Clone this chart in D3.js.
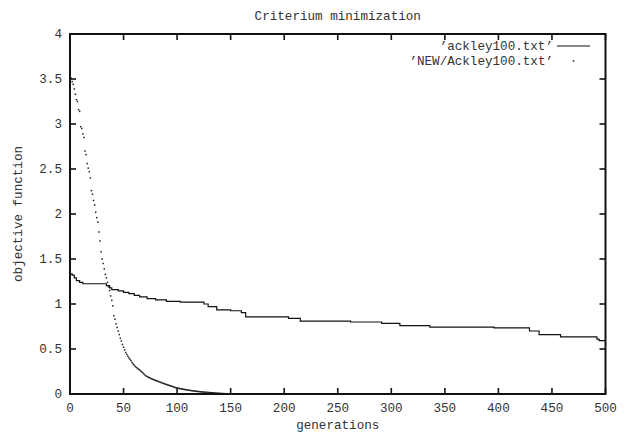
<!DOCTYPE html>
<html>
<head>
<meta charset="utf-8">
<script src="https://cdn.jsdelivr.net/npm/d3@7"></script>
<style>
  html, body { margin: 0; padding: 0; background: #fff; }
  svg { display: block; }
  text { font-family: "Courier New", Courier, "Liberation Mono", "DejaVu Sans Mono", monospace; fill: #333; }
</style>
</head>
<body>
<svg id="chart" width="628" height="437"></svg>
<script>
// ---- data ----
const title = "Criterium minimization";
const xLabel = "generations";
const yLabel = "objective function";
const xTicks = [0, 50, 100, 150, 200, 250, 300, 350, 400, 450, 500];
const yTicks = [0, 0.5, 1, 1.5, 2, 2.5, 3, 3.5, 4];
const yTickLabels = ["0", "0.5", "1", "1.5", "2", "2.5", "3", "3.5", "4"];
const seriesNames = ["\u2019ackley100.txt\u2019", "\u2019NEW/Ackley100.txt\u2019"];

// 'ackley100.txt' : generation at which the value changes, and the value held from there
const ackleyGen = [0, 2, 4, 6, 9, 12, 34, 37, 39, 45, 50, 55, 60, 65, 72, 80, 90, 103, 125, 129, 137, 150, 160, 164, 204, 215, 262, 291, 308, 336, 396, 429, 438, 458, 492, 494, 500];
const ackleyVal = [1.335, 1.32, 1.29, 1.26, 1.24, 1.225, 1.205, 1.18, 1.16, 1.145, 1.13, 1.115, 1.095, 1.08, 1.06, 1.045, 1.03, 1.02, 1.0, 0.97, 0.935, 0.925, 0.905, 0.858, 0.84, 0.81, 0.80, 0.785, 0.76, 0.742, 0.735, 0.70, 0.66, 0.635, 0.61, 0.594, 0.594];

// 'NEW/Ackley100.txt' : one value per generation (index = generation)
const newVal = [
  3.55, 3.51, 3.47, 3.44, 3.39, 3.33, 3.27, 3.25, 3.16, 3.14,
  2.97, 2.95, 2.89, 2.85, 2.70, 2.66, 2.56, 2.51, 2.47, 2.40,
  2.26, 2.22, 2.15, 2.10, 2.02, 1.96, 1.91, 1.80, 1.70, 1.58,
  1.50, 1.45, 1.39, 1.33, 1.29, 1.24, 1.19, 1.15, 1.09, 1.04,
  0.98, 0.87, 0.83, 0.78, 0.74, 0.70, 0.66, 0.62, 0.59, 0.55,
  0.52, 0.49, 0.46, 0.44, 0.42, 0.40, 0.385, 0.37, 0.35, 0.335,
  0.32, 0.305, 0.295, 0.285, 0.275, 0.267, 0.255, 0.245, 0.235, 0.222,
  0.21, 0.20, 0.194, 0.188, 0.182, 0.176, 0.17, 0.165, 0.16, 0.155,
  0.15, 0.146, 0.141, 0.137, 0.132, 0.128, 0.123, 0.119, 0.114, 0.11,
  0.106, 0.102, 0.098, 0.094, 0.09, 0.086, 0.082, 0.077, 0.073, 0.07,
  0.067, 0.064, 0.062, 0.059, 0.057, 0.055, 0.052, 0.05, 0.048, 0.046,
  0.044, 0.042, 0.04, 0.038, 0.037, 0.035, 0.033, 0.032, 0.03, 0.029,
  0.027, 0.026, 0.025, 0.023, 0.022, 0.021, 0.02, 0.019, 0.018, 0.017,
  0.016, 0.015, 0.014, 0.013, 0.012, 0.011, 0.010, 0.009, 0.008, 0.007,
  0.006, 0.006, 0.005, 0.004, 0.004, 0.003, 0.003, 0.002, 0.002, 0.001,
  0.001
];

// ---- layout ----
const svg = d3.select("#chart");
const L = 70, R = 605.5, T = 34, B = 394;
const x = d3.scaleLinear().domain([0, 500]).range([L, R]);
const y = d3.scaleLinear().domain([0, 4]).range([B, T]);
const fs = 12.6;
const tickLen = 6;

// ticks (inward, mirrored)
const tk = svg.append("g").attr("stroke", "#111").attr("stroke-width", 1.6);
xTicks.forEach(v => {
  tk.append("line").attr("x1", x(v)).attr("x2", x(v)).attr("y1", B).attr("y2", B - tickLen);
  tk.append("line").attr("x1", x(v)).attr("x2", x(v)).attr("y1", T).attr("y2", T + tickLen);
});
yTicks.forEach(v => {
  tk.append("line").attr("x1", L).attr("x2", L + tickLen).attr("y1", y(v)).attr("y2", y(v));
  tk.append("line").attr("x1", R).attr("x2", R - tickLen).attr("y1", y(v)).attr("y2", y(v));
});

// tick labels
svg.append("g").selectAll("text").data(xTicks).join("text")
  .attr("x", d => x(d)).attr("y", 412).attr("text-anchor", "middle")
  .attr("font-size", fs).text(d => d);
svg.append("g").selectAll("text").data(yTicks).join("text")
  .attr("x", 62).attr("y", d => y(d) + 4.3).attr("text-anchor", "end")
  .attr("font-size", fs).text((d, i) => yTickLabels[i]);

// title and axis labels
svg.append("text").attr("x", (L + R) / 2).attr("y", 20).attr("text-anchor", "middle")
  .attr("font-size", fs).text(title);
svg.append("text").attr("x", (L + R) / 2).attr("y", 429).attr("text-anchor", "middle")
  .attr("font-size", fs).text(xLabel);
svg.append("text").attr("transform", `translate(22,${(T + B) / 2}) rotate(-90)`)
  .attr("text-anchor", "middle").attr("font-size", fs).text(yLabel);

// series 1: line
const line = d3.line().x((d, i) => x(ackleyGen[i])).y(d => y(d)).curve(d3.curveStepAfter);
svg.append("path").datum(ackleyVal).attr("d", line)
  .attr("fill", "none").attr("stroke", "#111").attr("stroke-width", 1.2);

// series 2: dots
svg.append("g").selectAll("rect").data(newVal).join("rect")
  .attr("x", (d, i) => x(i) - 0.75).attr("y", d => y(d) - 0.75)
  .attr("width", 1.5).attr("height", 1.5).attr("fill", "#222");

// legend
const lgX = 553, lgS1 = 557, lgS2 = 590;
svg.append("text").attr("x", lgX).attr("y", 50).attr("text-anchor", "end")
  .attr("font-size", fs).text(seriesNames[0]);
svg.append("line").attr("x1", lgS1).attr("x2", lgS2).attr("y1", 46).attr("y2", 46)
  .attr("stroke", "#111").attr("stroke-width", 1.2);
svg.append("text").attr("x", lgX).attr("y", 65).attr("text-anchor", "end")
  .attr("font-size", fs).text(seriesNames[1]);
svg.append("rect").attr("x", (lgS1 + lgS2) / 2 - 0.75).attr("y", 61 - 0.75)
  .attr("width", 1.5).attr("height", 1.5).attr("fill", "#222");

// border
svg.append("rect").attr("x", L).attr("y", T).attr("width", R - L).attr("height", B - T)
  .attr("fill", "none").attr("stroke", "#111").attr("stroke-width", 2);
</script>
</body>
</html>
